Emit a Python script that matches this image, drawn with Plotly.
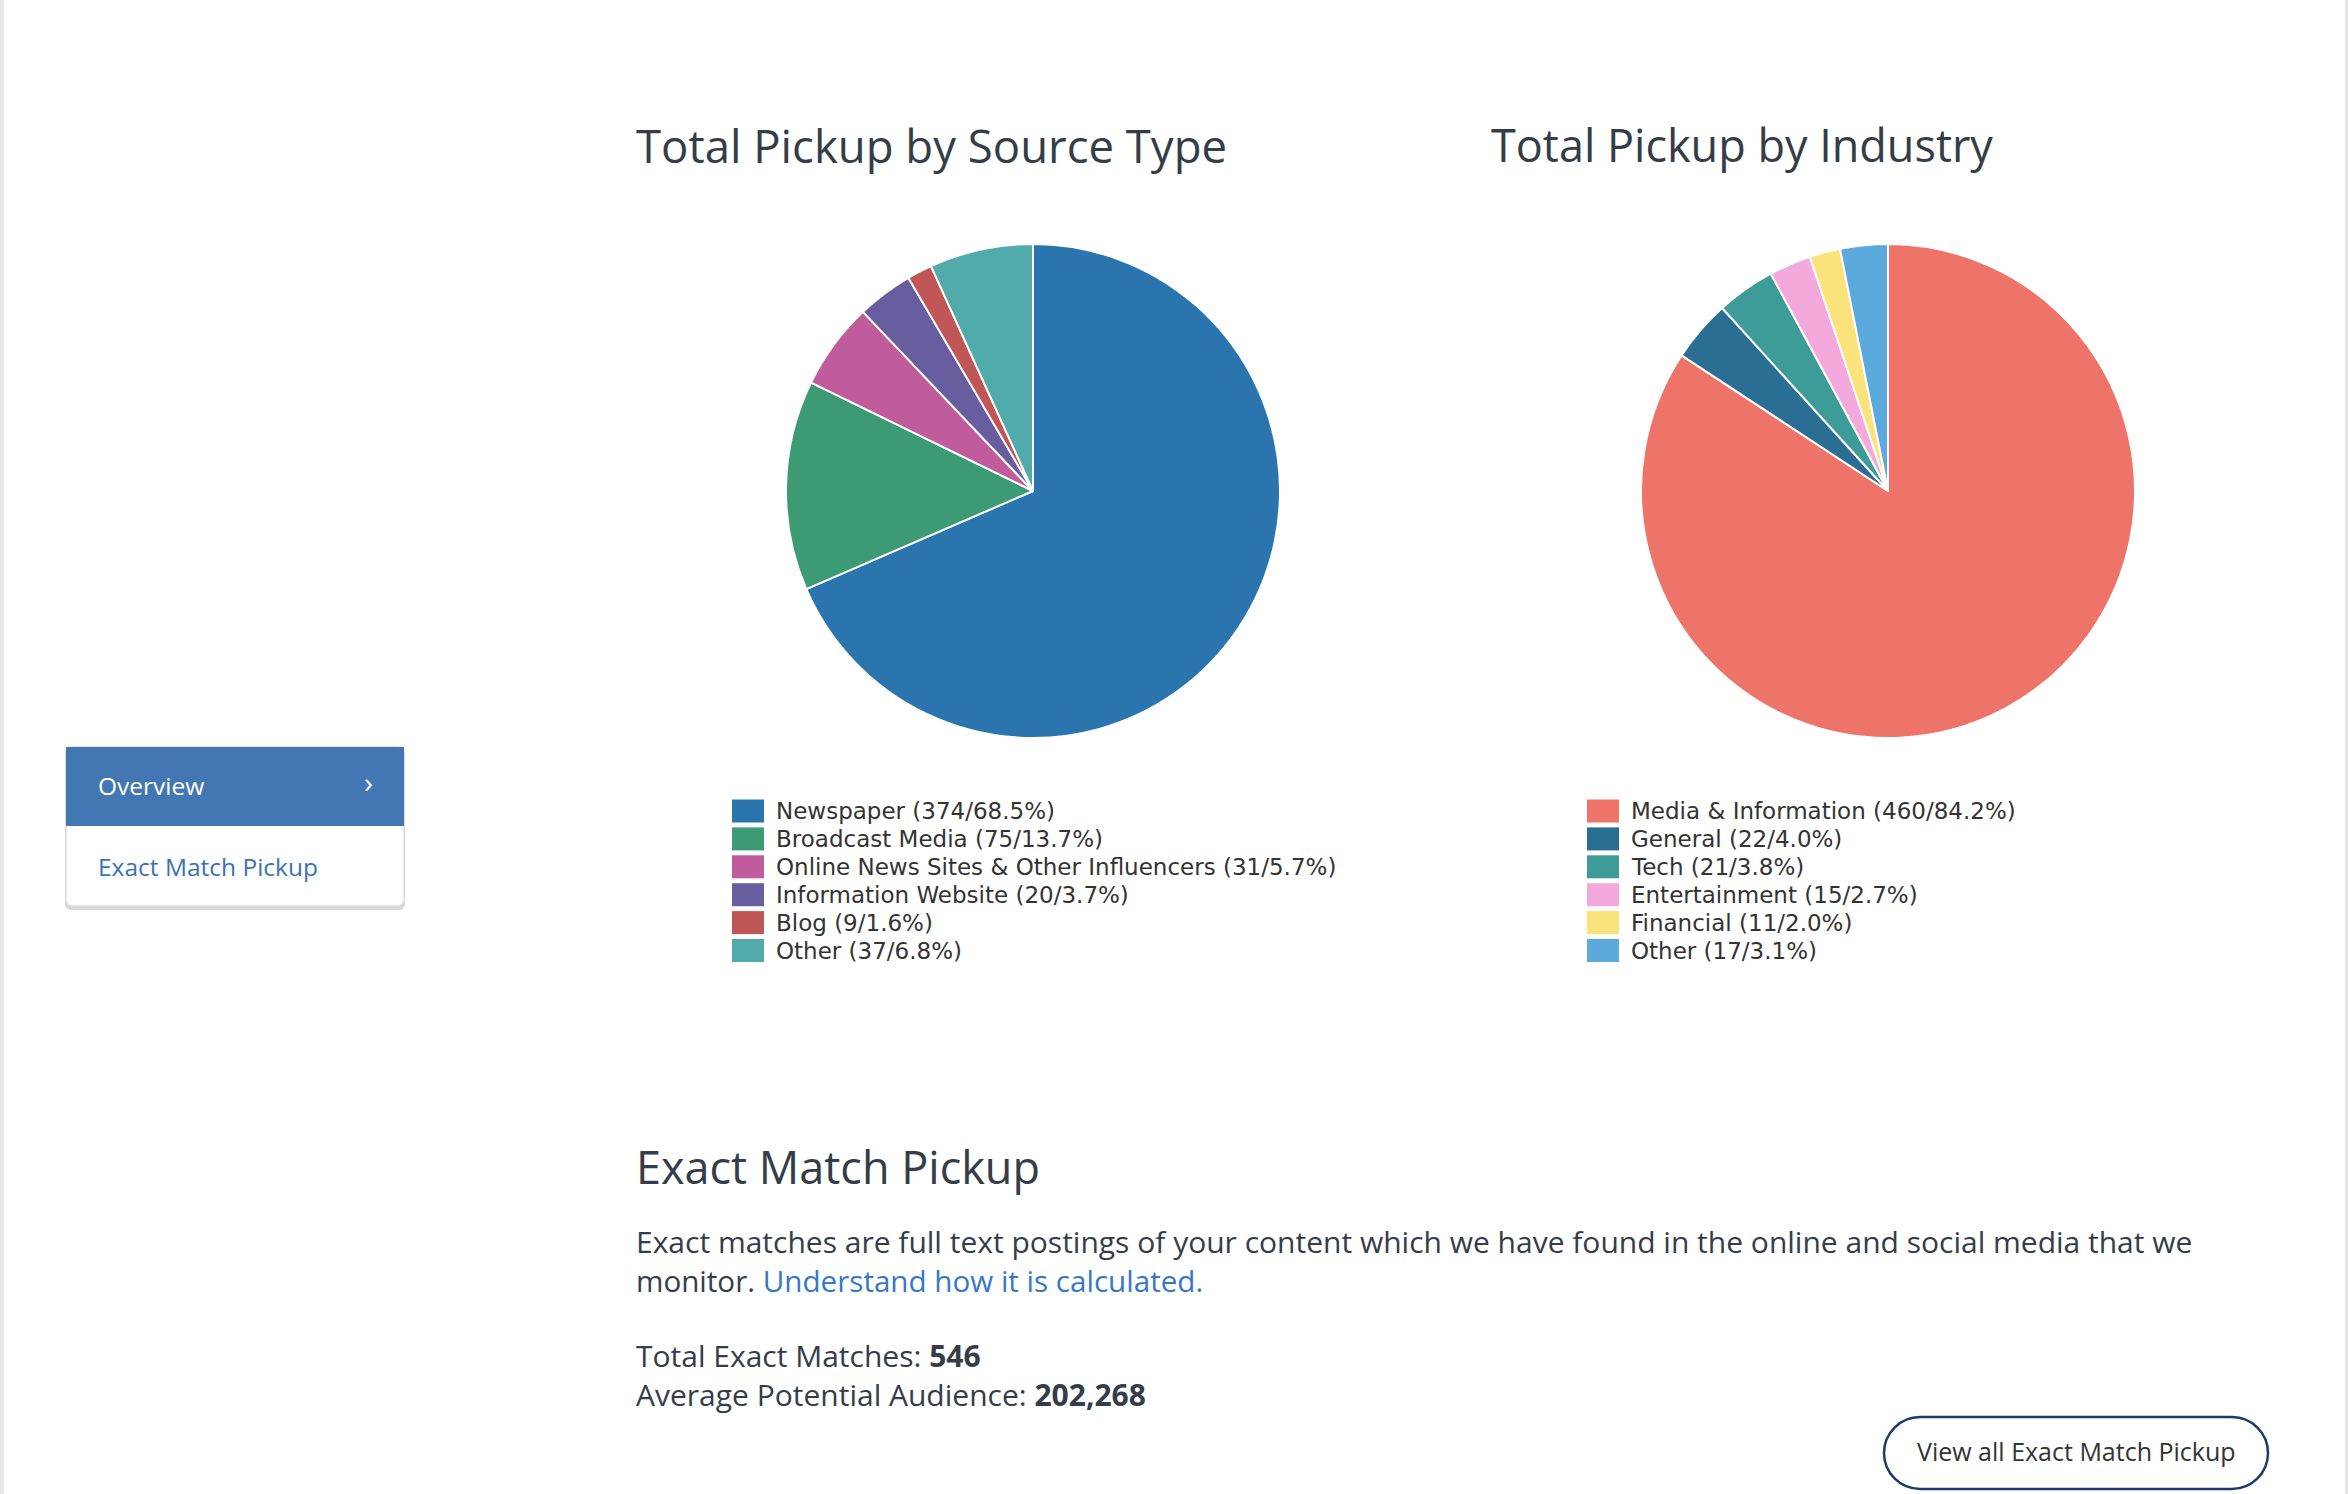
import plotly.graph_objects as go

W, H = 2348, 1494

# ---- data ----
source_labels = ["Newspaper", "Broadcast Media", "Online News Sites & Other Influencers",
                 "Information Website", "Blog", "Other"]
source_values = [374, 75, 31, 20, 9, 37]
source_colors = ["#2A75AD", "#3C9A74", "#C05C9B", "#685D9F", "#C05756", "#50ABAA"]

industry_labels = ["Media & Information", "General", "Tech", "Entertainment", "Financial", "Other"]
industry_values = [460, 22, 21, 15, 11, 17]
industry_colors = ["#EE7369", "#2A6F93", "#3D9C98", "#F4A9DD", "#F9E37A", "#5BA9DD"]

total_exact_matches = 546
avg_potential_audience = 202268

TXT = "#343d48"
LINK = "#3677c9"
FONT = "Open Sans"


def dom(cx, cy, r):
    return dict(x=[(cx - r) / W, (cx + r) / W], y=[1 - (cy + r) / H, 1 - (cy - r) / H])


fig = go.Figure()

fig.add_trace(go.Pie(labels=source_labels, values=source_values, sort=False,
                     direction="clockwise", rotation=0, textinfo="none",
                     marker=dict(colors=source_colors, line=dict(color="white", width=2)),
                     domain=dom(1033, 491, 247), showlegend=False, hoverinfo="label+value+percent"))
fig.add_trace(go.Pie(labels=industry_labels, values=industry_values, sort=False,
                     direction="clockwise", rotation=0, textinfo="none",
                     marker=dict(colors=industry_colors, line=dict(color="white", width=2)),
                     domain=dom(1888, 491, 247), showlegend=False, hoverinfo="label+value+percent"))

shapes = []
annotations = []


def txt(x, y, s, size, color=TXT, family=FONT, xanchor="left"):
    annotations.append(dict(x=x, y=y, xref="x", yref="y", text=s, showarrow=False,
                            xanchor=xanchor, yanchor="middle",
                            font=dict(size=size, color=color, family=family)))


# titles
txt(634, 144.5, "Total Pickup by Source Type", 45.5)
txt(1489, 144.5, "Total Pickup by Industry", 45)


# legends (custom, built from data)
def legend(x0, labels, values, colors):
    total = sum(values)
    for i, (lab, v, c) in enumerate(zip(labels, values, colors)):
        yc = 811 + i * 27.9
        shapes.append(dict(type="rect", xref="x", yref="y", x0=x0, x1=x0 + 32,
                           y0=yc - 11.5, y1=yc + 11.5, fillcolor=c, line=dict(width=0)))
        txt(x0 + 42, yc, f"{lab} ({v}/{v / total * 100:.1f}%)", 23, color="#333333",
            family="DejaVu Sans")


legend(732, source_labels, source_values, source_colors)
legend(1587, industry_labels, industry_values, industry_colors)

# bottom section
txt(634, 1166.5, "Exact Match Pickup", 45)
txt(634, 1241.5, "Exact matches are full text postings of your content which we have found in the "
    "online and social media that we", 30)
txt(634, 1280.5, f"monitor. <span style='color:{LINK}'>Understand how it is calculated.</span>", 29.6)
txt(634, 1355.5, f"Total Exact Matches: <b>{total_exact_matches}</b>", 30)
txt(634, 1394.5, f"Average Potential Audience: <b>{avg_potential_audience:,}</b>", 30)


def rounded(x0, y0, x1, y1, r):
    k = 0.5523 * r
    return (f"M{x0 + r},{y0} L{x1 - r},{y0} C{x1 - r + k},{y0} {x1},{y0 + r - k} {x1},{y0 + r} "
            f"L{x1},{y1 - r} C{x1},{y1 - r + k} {x1 - r + k},{y1} {x1 - r},{y1} "
            f"L{x0 + r},{y1} C{x0 + r - k},{y1} {x0},{y1 - r + k} {x0},{y1 - r} "
            f"L{x0},{y0 + r} C{x0},{y0 + r - k} {x0 + r - k},{y0} {x0 + r},{y0} Z")


# button
shapes.append(dict(type="path", xref="x", yref="y", path=rounded(1884, 1417, 2268, 1489, 36),
                   fillcolor="white", line=dict(color="#1c3a6b", width=2.5)))
txt(2076, 1450.5, "View all Exact Match Pickup", 25, color="#333333", xanchor="center")

# sidebar card
shapes.append(dict(type="path", xref="x", yref="y", path=rounded(65, 748, 405, 910, 6),
                   fillcolor="#d9d9d9", line=dict(width=0)))
shapes.append(dict(type="path", xref="x", yref="y", path=rounded(66, 747, 404, 906, 6),
                   fillcolor="white", line=dict(color="#dddddd", width=1.5)))
shapes.append(dict(type="rect", xref="x", yref="y", x0=66, x1=404, y0=747, y1=826,
                   fillcolor="#4277B3", line=dict(width=0)))
txt(96, 785.5, "Overview", 24.5, color="white")
txt(362, 781, "›", 30, color="white")
txt(96, 866, "Exact Match Pickup", 24.5, color="#3b72b6")

# page edges
shapes.append(dict(type="rect", xref="x", yref="y", x0=0, x1=4, y0=0, y1=H,
                   fillcolor="#e6e6e6", line=dict(width=0), layer="below"))
shapes.append(dict(type="rect", xref="x", yref="y", x0=2345, x1=W, y0=0, y1=H,
                   fillcolor="#e6e6e6", line=dict(width=0), layer="below"))

fig.update_layout(
    width=W, height=H, margin=dict(l=0, r=0, t=0, b=0),
    paper_bgcolor="white", plot_bgcolor="white",
    xaxis=dict(range=[0, W], visible=False, domain=[0, 1], fixedrange=True),
    yaxis=dict(range=[H, 0], visible=False, domain=[0, 1], fixedrange=True),
    shapes=shapes, annotations=annotations, showlegend=False,
)

fig.write_html("out.html")
